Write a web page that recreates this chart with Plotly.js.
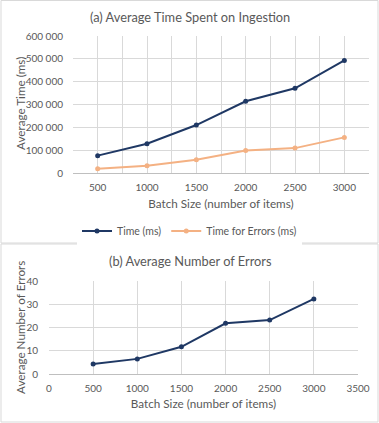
<!DOCTYPE html>
<html><head><meta charset="utf-8">
<script src="https://cdn.plot.ly/plotly-3.0.1.min.js"></script>
<style>html,body{margin:0;padding:0;background:#fff}#chart{width:379px;height:423px}</style>
</head><body><div id="chart"></div>
<script>
const batchSizes = [500, 1000, 1500, 2000, 2500, 3000];
const timeMs = [76000, 128000, 210000, 314000, 371000, 493000];
const errorTimeMs = [19000, 32000, 58000, 98000, 109000, 156000];
const avgErrors = [4.3, 6.5, 11.7, 21.8, 23.2, 32.3];

const navy = '#1F3864', orange = '#F4B183', txt = '#595959', grid = '#D9D9D9';
const font = {family: 'Lato, "Open Sans", sans-serif', size: 11, color: txt};
const tickFont = {size: 10, color: txt};
const axTitleFont = {size: 11.7, color: txt};

const data = [
  {x: batchSizes, y: timeMs, name: 'Time (ms)', type: 'scatter', mode: 'lines+markers',
   line: {color: navy, width: 2}, marker: {color: navy, size: 5}, xaxis: 'x', yaxis: 'y'},
  {x: batchSizes, y: errorTimeMs, name: 'Time for Errors (ms)', type: 'scatter', mode: 'lines+markers',
   line: {color: orange, width: 2}, marker: {color: orange, size: 5}, xaxis: 'x', yaxis: 'y'},
  {x: batchSizes, y: avgErrors, name: 'Errors', showlegend: false, type: 'scatter', mode: 'lines+markers',
   line: {color: navy, width: 2}, marker: {color: navy, size: 5}, xaxis: 'x2', yaxis: 'y2'}
];

const layout = {
  width: 379, height: 423, margin: {l: 0, r: 0, t: 0, b: 0},
  paper_bgcolor: '#fff', plot_bgcolor: '#fff', font: font, separators: '. ',
  showlegend: true,
  legend: {orientation: 'h', x: 0.5, xanchor: 'center', y: 1 - 231/423, yanchor: 'middle',
           font: {size: 10.5, color: txt}, itemwidth: 30, tracegroupgap: 0},
  xaxis: {domain: [73/379, 369/379], anchor: 'y', range: [250, 3250], tickvals: batchSizes,
          showgrid: true, gridcolor: grid, gridwidth: 1, zeroline: false,
          minor: {dtick: 250, tick0: 0, showgrid: true, gridcolor: grid, ticks: ''},
          showline: true, linecolor: '#BFBFBF', ticks: '', ticklabelstandoff: 5,
          tickfont: tickFont,
          title: {text: 'Batch Size (number of items)', font: axTitleFont, standoff: 7}},
  yaxis: {domain: [250/423, 387/423], anchor: 'x', range: [0, 600000], dtick: 100000, tickformat: ',d',
          showgrid: true, gridcolor: grid, zeroline: false, showline: false, ticks: '',
          tickfont: tickFont, ticklabelstandoff: 9},
  xaxis2: {domain: [49/379, 358/379], anchor: 'y2', range: [0, 3500], dtick: 500,
           showgrid: true, gridcolor: grid, zeroline: false,
           showline: true, linecolor: '#BFBFBF', ticks: '', ticklabelstandoff: 5,
           tickfont: tickFont,
           title: {text: 'Batch Size (number of items)', font: axTitleFont, standoff: 6}},
  yaxis2: {domain: [49/423, 142/423], anchor: 'x2', range: [0, 40], dtick: 10,
           showgrid: true, gridcolor: grid, zeroline: false, showline: false, ticks: '',
           tickfont: tickFont, ticklabelstandoff: 10},
  annotations: [
    {text: '(a) Average Time Spent on Ingestion', x: 190/379, y: 1 - 17/423, xref: 'paper', yref: 'paper',
     showarrow: false, xanchor: 'center', yanchor: 'middle', font: {size: 12.8, color: txt}},
    {text: '(b) Average Number of Errors', x: 190/379, y: 1 - 261/423, xref: 'paper', yref: 'paper',
     showarrow: false, xanchor: 'center', yanchor: 'middle', font: {size: 12.8, color: txt}},
    {text: 'Average Time (ms)', textangle: -90, x: 20/379, y: 1 - 104/423, xref: 'paper', yref: 'paper',
     showarrow: false, xanchor: 'center', yanchor: 'middle', font: axTitleFont},
    {text: 'Average Number of Errors', textangle: -90, x: 20/379, y: 1 - 328/423, xref: 'paper', yref: 'paper',
     showarrow: false, xanchor: 'center', yanchor: 'middle', font: axTitleFont}
  ],
  shapes: [
    {type: 'rect', xref: 'paper', yref: 'paper', x0: 1/379, x1: 378/379, y0: 1 - 243/423, y1: 1 - 0.5/423,
     line: {color: grid, width: 1}},
    {type: 'rect', xref: 'paper', yref: 'paper', x0: 1/379, x1: 378/379, y0: 1/423, y1: 1 - 244/423,
     line: {color: grid, width: 1}}
  ]
};

Plotly.newPlot('chart', data, layout, {staticPlot: true, displayModeBar: false});
</script></body></html>
